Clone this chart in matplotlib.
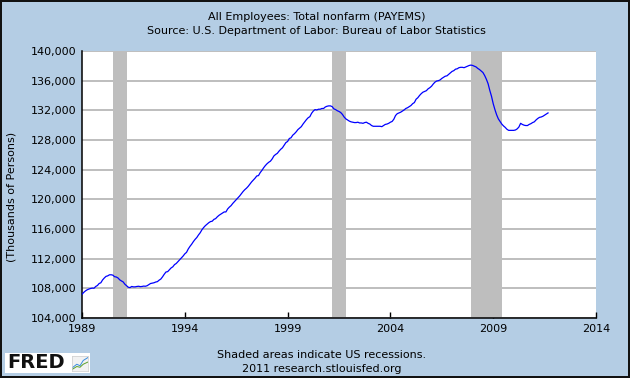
import numpy as np
import matplotlib
matplotlib.use("Agg")
import matplotlib.pyplot as plt
from matplotlib.patches import Rectangle
from matplotlib.ticker import FuncFormatter

# All Employees: Total nonfarm, monthly, thousands of persons (Jan 1989 - Sep 2011)
start_year = 1989
payems = [
    107200, 107450, 107650, 107800, 107900, 107980, 108030, 108010, 108250, 108380, 108650, 108750,  # 1989
    109130, 109390, 109610, 109680, 109820, 109830, 109780, 109570, 109530, 109400, 109150, 109000,  # 1990
    108870, 108560, 108350, 108150, 108100, 108250, 108200, 108200, 108250, 108280, 108230, 108250,  # 1991
    108300, 108280, 108350, 108500, 108650, 108700, 108750, 108850, 108900, 109100, 109250, 109550,  # 1992
    109900, 110200, 110250, 110500, 110750, 110900, 111200, 111350, 111600, 111850, 112100, 112350,  # 1993
    112650, 112850, 113300, 113650, 113950, 114300, 114600, 114850, 115200, 115500, 115900, 116200,  # 1994
    116450, 116650, 116850, 117000, 117050, 117300, 117400, 117650, 117850, 118000, 118150, 118300,  # 1995
    118300, 118700, 118950, 119150, 119450, 119700, 119950, 120200, 120450, 120750, 121050, 121300,  # 1996
    121500, 121750, 122050, 122350, 122600, 122850, 123150, 123200, 123600, 123900, 124250, 124550,  # 1997
    124800, 125000, 125150, 125450, 125850, 126050, 126200, 126500, 126750, 126950, 127300, 127650,  # 1998
    127800, 128200, 128300, 128650, 128850, 129100, 129400, 129600, 129800, 130150, 130450, 130750,  # 1999
    131000, 131150, 131600, 131900, 132100, 132050, 132150, 132150, 132250, 132250, 132450, 132550,  # 2000
    132600, 132600, 132500, 132200, 132100, 131950, 131850, 131700, 131450, 131100, 130850, 130700,  # 2001
    130550, 130450, 130400, 130350, 130350, 130400, 130300, 130300, 130250, 130350, 130400, 130250,  # 2002
    130150, 129950, 129850, 129850, 129850, 129850, 129850, 129800, 129950, 130100, 130150, 130250,  # 2003
    130400, 130500, 130800, 131300, 131550, 131650, 131750, 131900, 132050, 132250, 132350, 132500,  # 2004
    132650, 132900, 133050, 133500, 133700, 134000, 134250, 134450, 134550, 134650, 134900, 135050,  # 2005
    135250, 135550, 135800, 135950, 136000, 136100, 136300, 136450, 136600, 136650, 136850, 137050,  # 2006
    137250, 137350, 137550, 137600, 137750, 137800, 137800, 137750, 137850, 137950, 138050, 138100,  # 2007
    138050, 137950, 137850, 137650, 137500, 137300, 137100, 136700, 136200, 135600, 134700, 133900,  # 2008
    132900, 132100, 131400, 130850, 130500, 130150, 129900, 129700, 129450, 129300, 129300, 129300,  # 2009
    129300, 129350, 129500, 129750, 130250, 130100, 130000, 129950, 129950, 130100, 130200, 130350,  # 2010
    130450, 130700, 130900, 131050, 131100, 131200, 131350, 131500, 131650,                          # 2011
]

# NBER recessions (start, end) as (year, month)
rec_start = [(1990, 7), (2001, 3), (2007, 12)]
rec_end = [(1991, 3), (2001, 11), (2009, 6)]

x_ticks = [1989, 1994, 1999, 2004, 2009, 2014]
y_ticks = [104000, 108000, 112000, 116000, 120000, 124000, 128000, 132000, 136000, 140000]

bg = "#b4cde4"

def ym(y, m):
    return y + (m - 1) / 12.0

t = np.array([start_year + i / 12.0 for i in range(len(payems))])

fig = plt.figure(figsize=(6.3, 3.78), dpi=100)
fig.patch.set_facecolor(bg)
fig.patch.set_edgecolor("#111111")
fig.patch.set_linewidth(1.6)

ax = fig.add_axes([82 / 630, 1 - 318 / 378, (596 - 82) / 630, (318 - 51) / 378])
ax.set_facecolor("white")
ax.set_axisbelow(True)

for s, e in zip(rec_start, rec_end):
    ax.axvspan(ym(*s), ym(*e), color="#bebebe", lw=0, zorder=1)

ax.plot(t, payems, color="#0000ff", lw=0.9, zorder=3)

ax.set_xlim(1989, 2014)
ax.set_ylim(104000, 140000)
ax.set_xticks(x_ticks)
ax.set_yticks(y_ticks)
ax.yaxis.set_major_formatter(FuncFormatter(lambda v, p: f"{int(v):,}"))
ax.grid(axis="y", color="#acacac", lw=1.1)
ax.grid(axis="x", visible=False)

for side in ["top", "right"]:
    ax.spines[side].set_visible(False)
for side in ["left", "bottom"]:
    ax.spines[side].set_color("black")
    ax.spines[side].set_linewidth(1.1)

ax.tick_params(axis="x", direction="in", length=4, width=1, color="black",
               labelsize=8, pad=4)
ax.tick_params(axis="y", length=0, labelsize=8, pad=4)

fig.text(12 / 630, 1 - 197 / 378, "(Thousands of Persons)", rotation=90,
         ha="center", va="center", fontsize=8)

fig.text(0.503, 1 - 17 / 378, "All Employees: Total nonfarm (PAYEMS)",
         ha="center", va="center", fontsize=8)
fig.text(0.503, 1 - 31 / 378, "Source: U.S. Department of Labor: Bureau of Labor Statistics",
         ha="center", va="center", fontsize=8)

fig.text(322 / 630, 1 - 355 / 378, "Shaded areas indicate US recessions.",
         ha="center", va="center", fontsize=8)
fig.text(322 / 630, 1 - 369 / 378, "2011 research.stlouisfed.org",
         ha="center", va="center", fontsize=8)

# FRED logo
fig.patches.append(Rectangle((5 / 630, 1 - 373 / 378), 85 / 630, 20 / 378,
                             transform=fig.transFigure, facecolor="white",
                             edgecolor="none", zorder=1))
fig.text(7 / 630, 1 - 362 / 378, "FRED", ha="left", va="center", fontsize=14,
         fontweight="heavy", color="#111111", zorder=2)
icon = fig.add_axes([72 / 630, 1 - 371 / 378, 16 / 630, 15 / 378])
icon.set_zorder(3)
icon.set_facecolor("#f2f2f2")
icon.plot([0, 0.3, 0.5, 0.7, 1.0], [0.2, 0.45, 0.35, 0.7, 0.9], color="#3a8dde", lw=0.7)
icon.plot([0, 0.3, 0.5, 0.7, 1.0], [0.1, 0.3, 0.25, 0.45, 0.6], color="#5aa02c", lw=0.7)
icon.set_xlim(0, 1)
icon.set_ylim(0, 1)
icon.set_xticks([])
icon.set_yticks([])
for sp in icon.spines.values():
    sp.set_color("#cccccc")
    sp.set_linewidth(0.5)

fig.savefig("out.png", dpi=100, facecolor=fig.get_facecolor(), edgecolor=fig.get_edgecolor())
